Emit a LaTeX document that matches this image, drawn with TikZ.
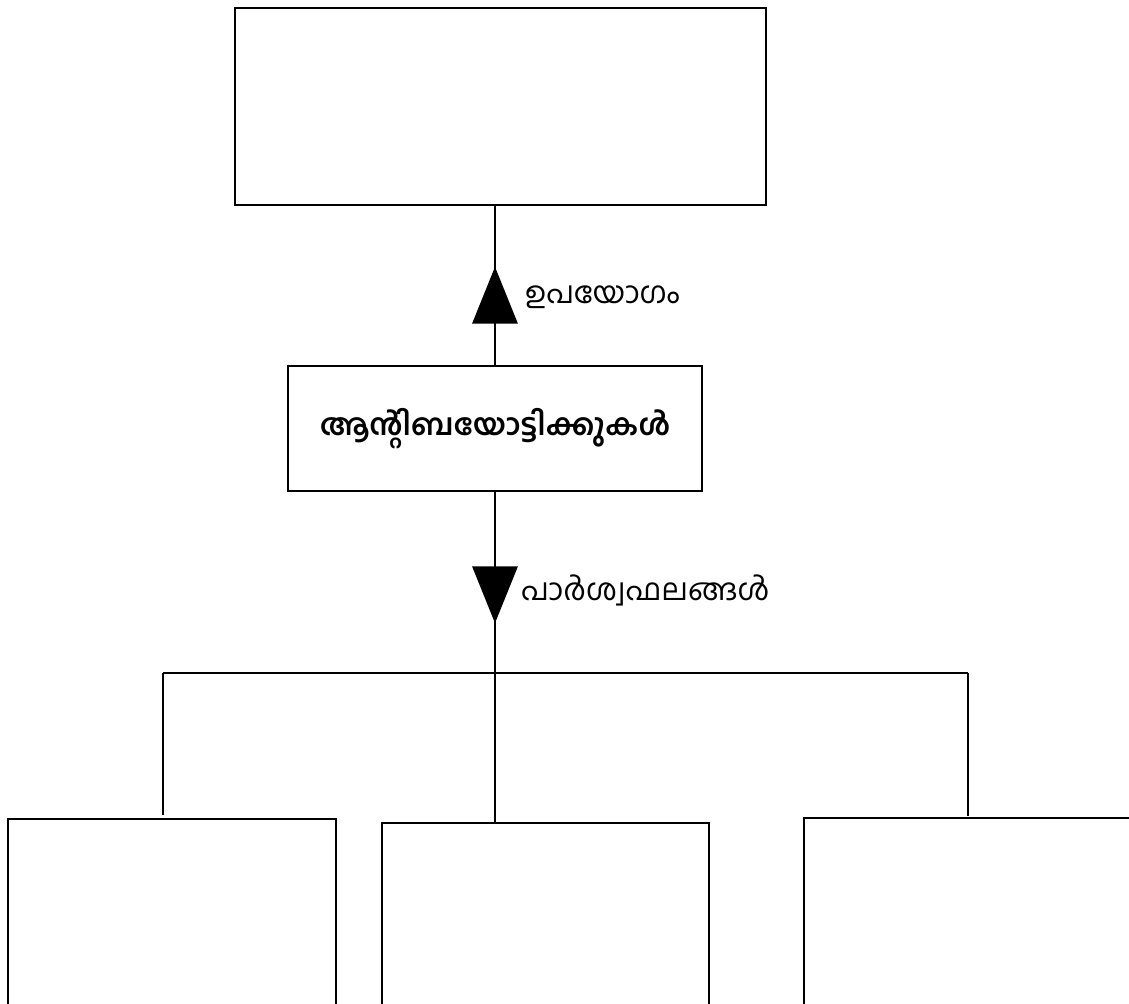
\documentclass[tikz,border=0pt]{standalone}
\usepackage{fontspec}
\newfontfamily\malfont[Script=Malayalam]{Hind Kochi}
\usetikzlibrary{arrows.meta,decorations.markings}

\begin{document}
\begin{tikzpicture}[line width=1.7pt,
    box/.style={draw, rectangle, inner sep=0pt},
    lbl/.style={anchor=west, inner sep=0pt, font=\malfont\fontsize{21.5}{26}\selectfont},
    midtri/.style={postaction={decorate, decoration={markings,
      mark=at position #1 with {\arrow{Triangle[width=1.13cm, length=1.42cm]}}}}}]
  \useasboundingbox (0,0) rectangle (28.225,25.075);
  \clip (0,0) rectangle (28.225,25.075);

  % Define boxes
  \node[box, minimum width=13.28cm, minimum height=4.93cm] (top) at (12.51,22.41) {};
  \node[box, minimum width=10.35cm, minimum height=3.13cm,
        font=\malfont\bfseries\fontsize{21.2}{26}\selectfont] (anti) at (12.375,14.36) {ആന്റിബയോട്ടിക്കുകൾ};
  \node[box, anchor=north, minimum width=8.2cm, minimum height=6cm] (left) at (4.3,4.625) {};
  \node[box, anchor=north, minimum width=8.18cm, minimum height=6cm] (mid) at (13.64,4.525) {};
  \node[box, anchor=north, minimum width=8.2cm, minimum height=6cm] (right) at (24.2,4.65) {};

  % Define junctions
  \coordinate (jn) at (12.375,8.25);
  \coordinate (lj) at (4.075,8.25);
  \coordinate (rj) at (24.2,8.25);

  % Labels
  \node[lbl] (use) at (13.1,17.65) {ഉപയോഗം};
  \node[lbl] (side) at (13.0,10.325) {പാർശ്വഫലങ്ങൾ};

  % Draw connectors
  \draw[midtri=2.45cm] (anti.north) -- (anti.north |- top.south);
  \draw[midtri=3.27cm] (anti.south) -- (jn);
  \draw (lj) -- (rj);
  \draw (jn) -- (jn |- mid.north);
  \draw[shorten >=2pt] (lj) -- (lj |- left.north);
  \draw[shorten >=1pt] (rj) -- (rj |- right.north);
\end{tikzpicture}
\end{document}
